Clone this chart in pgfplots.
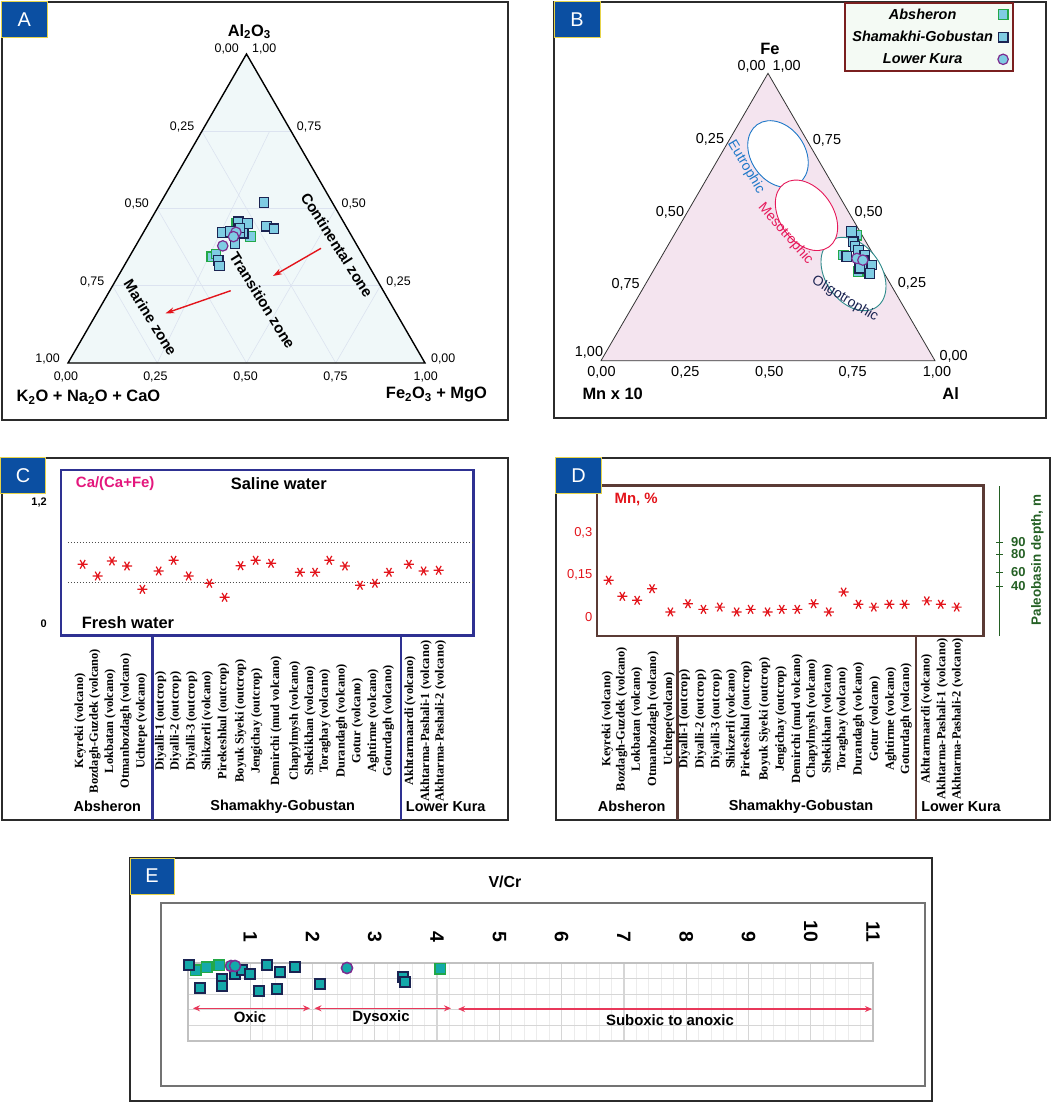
\documentclass[border=0pt]{standalone}
\usepackage{fontspec}
\setmainfont{Liberation Sans}
\newfontfamily\serifb{Liberation Serif}
\usepackage{pgfplots}
\pgfplotsset{compat=1.18}
\usepackage{pgfplotstable}
\usetikzlibrary{arrows.meta}

\definecolor{pblue}{HTML}{0B4FA2}
\definecolor{pyel}{HTML}{E6D34A}
\definecolor{trifillA}{HTML}{F0F8F9}
\definecolor{gridA}{HTML}{DCE3F0}
\definecolor{trifillB}{HTML}{F4E4EF}
\definecolor{mfill}{HTML}{7FCCE3}
\definecolor{efill}{HTML}{14A9AA}
\definecolor{navy}{HTML}{1B2452}
\definecolor{mgreen}{HTML}{23A848}
\definecolor{mpurple}{HTML}{7D2C8F}
\definecolor{cbox}{HTML}{2E3192}
\definecolor{magenta}{HTML}{E4177D}
\definecolor{dbox}{HTML}{5B3B35}
\definecolor{mred}{HTML}{E3141B}
\definecolor{dkgreen}{HTML}{246024}
\definecolor{earrow}{HTML}{E8385A}
\definecolor{gmaj}{HTML}{D6D6D6}
\definecolor{gmin}{HTML}{ECECEC}
\definecolor{eut}{HTML}{1E78C8}
\definecolor{meso}{HTML}{E6195A}
\definecolor{oligo}{HTML}{2E8B8B}
\definecolor{legfill}{HTML}{F4FAF4}
\definecolor{legborder}{HTML}{7A1F1F}
\definecolor{frame}{HTML}{2B2B2B}

\newcommand\fs[1]{\fontsize{#1}{#1}\selectfont}

% panel A: Al2O3 (a), Fe2O3+MgO (f)
\pgfplotstableread{
a f
0.452 0.247
0.409 0.307
0.344 0.231
0.353 0.238
}\Aabs
\pgfplotstableread{
a f
0.520 0.289
0.443 0.335
0.434 0.360
0.457 0.249
0.452 0.277
0.422 0.222
0.425 0.241
0.420 0.281
0.387 0.274
0.420 0.270
0.437 0.263
0.333 0.254
0.314 0.267
}\Asha
\pgfplotstableread{
a f
0.423 0.259
0.409 0.259
0.379 0.244
}\Akur

% panel B: Fe (fe), Al (al)
\pgfplotstableread{
fe al
0.437 0.547
0.368 0.541
0.310 0.615
}\Babs
\pgfplotstableread{
fe al
0.449 0.526
0.414 0.548
0.397 0.562
0.362 0.555
0.385 0.578
0.368 0.606
0.350 0.610
0.327 0.632
0.333 0.644
0.304 0.653
0.322 0.614
}\Bsha
\pgfplotstableread{
fe al
0.356 0.588
0.350 0.609
}\Bkur

% panel C: Ca/(Ca+Fe)
\pgfplotstableread{
pos r
1 0.585
1.93 0.469
2.81 0.618
3.74 0.568
4.69 0.337
5.70 0.519
6.62 0.625
7.55 0.469
8.83 0.397
9.77 0.258
10.76 0.571
11.69 0.625
12.64 0.595
14.43 0.506
15.36 0.506
16.24 0.625
17.21 0.568
18.14 0.377
19.06 0.397
19.93 0.506
21.16 0.585
22.07 0.519
23.00 0.526
}\Cdata

% panel D: Mn, %
\pgfplotstableread{
pos mn
1 0.131
1.86 0.074
2.80 0.060
3.74 0.101
4.90 0.019
6.01 0.048
6.99 0.028
8.02 0.036
9.09 0.019
9.97 0.028
11.04 0.019
11.94 0.028
12.92 0.028
13.95 0.048
14.91 0.019
15.85 0.089
16.79 0.046
17.76 0.036
18.74 0.046
19.70 0.046
21.11 0.058
21.99 0.046
23.00 0.036
}\Ddata

% panel E: V/Cr, row
\pgfplotstableread{
v row
0.128 4.55
0.305 4.74
0.498 4.87
4.047 4.62
}\Eabs
\pgfplotstableread{
v row
0.016 4.87
0.193 3.40
0.546 3.97
0.546 3.53
0.755 4.29
0.867 4.55
0.996 4.29
1.140 3.21
1.269 4.87
1.429 3.33
1.477 4.42
1.718 4.74
2.120 3.65
3.453 4.10
3.485 3.78
}\Esha
\pgfplotstableread{
v row
0.691 4.81
0.755 4.81
2.553 4.68
}\Ekur

\pgfplotsset{
  absA/.style={only marks, mark=square*, mark size=4.8bp, mark options={fill=mfill, draw=mgreen, line width=1.2bp}},
  shaA/.style={only marks, mark=square*, mark size=4.8bp, mark options={fill=mfill, draw=navy, line width=1.2bp}},
  kurA/.style={only marks, mark=*, mark size=5.2bp, mark options={fill=mfill, draw=mpurple, line width=1.2bp}},
  absE/.style={only marks, mark=square*, mark size=5.4bp, mark options={fill=efill, draw=mgreen, line width=1.8bp}},
  shaE/.style={only marks, mark=square*, mark size=5.4bp, mark options={fill=efill, draw=navy, line width=2bp}},
  kurE/.style={only marks, mark=*, mark size=5.6bp, mark options={fill=efill, draw=mpurple, line width=1.5bp}},
  starC/.style={only marks, mark=asterisk, mark size=5bp, mark options={rotate=90, draw=mred, line width=1.2bp}},
}

\begin{document}
\begin{tikzpicture}
\fill[white] (0,0) rectangle (1051bp,-1103bp);
\begin{scope}[x=1bp,y=-1bp]
  % ---------- panel A background ----------
  \filldraw[fill=trifillA, draw=none] (68,363) -- (425,363) -- (246.5,54) -- cycle;
  \begin{scope}[draw=gridA, line width=0.6bp]
    \draw (112.6,285.75) -- (380.4,285.75);
    \draw (157.25,208.5) -- (335.75,208.5);
    \draw (201.9,131.25) -- (291.1,131.25);
    \draw (157.25,363) -- (269.6,131.25);
    \draw (246.5,363) -- (335.75,208.5);
    \draw (335.75,363) -- (380.4,285.75);
    \draw (335.75,363) -- (201.9,131.25);
    \draw (246.5,363) -- (157.25,208.5);
    \draw (157.25,363) -- (112.6,285.75);
  \end{scope}
  \draw[black, line width=1.4bp, line join=miter] (68,363) -- (425,363) -- (246.5,54) -- cycle;
  \begin{scope}[font=\fs{12.5}]
    \node at (226.7,49.3) {0,00};  \node at (264.2,49.3) {1,00};
    \node at (182.1,126.7) {0,25}; \node at (136.8,204) {0,50};
    \node at (92.2,282) {0,75};    \node at (47.6,359.3) {1,00};
    \node at (309.1,126.7) {0,75}; \node at (353.7,204) {0,50};
    \node at (398.6,282) {0,25};   \node at (443.2,359.3) {0,00};
    \node at (65.9,377.3) {0,00};  \node at (155.4,377.3) {0,25};
    \node at (245.6,377.3) {0,50}; \node at (335.5,377.3) {0,75};
    \node at (425.7,377.3) {1,00};
  \end{scope}
  \begin{scope}[font=\bfseries\fs{16.5}]
    \node at (249.3,31.7) {Al\textsubscript{2}O\textsubscript{3}};
    \node at (88.5,397.3) {K\textsubscript{2}O + Na\textsubscript{2}O + CaO};
    \node at (436.5,395) {Fe\textsubscript{2}O\textsubscript{3} + MgO};
  \end{scope}
  \begin{scope}[font=\bfseries\fs{15}]
    \node[rotate=-57.6] at (337,245) {Continental zone};
    \node[rotate=-58] at (262.5,300.5) {Transition zone};
    \node[rotate=-58] at (150.5,317.5) {Marine zone};
  \end{scope}
  \draw[mred, line width=1.4bp, -{Stealth[length=9bp,width=6bp]}] (321,248.3) -- (273,276);
  \draw[mred, line width=1.4bp, -{Stealth[length=9bp,width=6bp]}] (230.7,290.7) -- (165.5,313.3);

  % ---------- panel B background ----------
  \filldraw[fill=trifillB, draw=black!80, line width=0.8bp] (601,360.7) -- (935,360.7) -- (768,73.3) -- cycle;
  \draw[eut, line width=0.9bp, fill=white, rotate around={-55:(778,154)}] (778,154) ellipse [x radius=36bp, y radius=27bp];
  \draw[oligo, line width=0.9bp, fill=white, rotate around={-55:(853.5,274)}] (853.5,274) ellipse [x radius=40.3bp, y radius=27.9bp];
  \draw[meso, line width=0.9bp, fill=white, rotate around={-55:(806.5,215.3)}] (806.5,215.3) ellipse [x radius=38.8bp, y radius=26.6bp];
  \begin{scope}[font=\fs{14}]
    \node[eut, rotate=-59, inner sep=0pt] at (746,167) {Eutrophic};
    \node[meso, rotate=-49, inner sep=0pt] at (785.5,234) {Mesotrophic};
    \node[navy, rotate=-31, inner sep=0pt] at (845,299) {Oligotrophic};
  \end{scope}
  \begin{scope}[font=\fs{14.5}]
    \node at (751.7,66.7) {0,00};  \node at (786.7,66.7) {1,00};
    \node at (710,139.3) {0,25};   \node at (670,212.3) {0,50};
    \node at (625.7,284.3) {0,75}; \node at (589,352.7) {1,00};
    \node at (827,140) {0,75};     \node at (868.7,212.3) {0,50};
    \node at (912,283.3) {0,25};   \node at (953.7,356.7) {0,00};
    \node at (601.5,372.7) {0,00}; \node at (685.3,372.7) {0,25};
    \node at (769.3,372.7) {0,50}; \node at (852.7,372.7) {0,75};
    \node at (937,372.7) {1,00};
  \end{scope}
  \begin{scope}[font=\bfseries\fs{16.5}]
    \node at (770,49.3) {Fe};
    \node at (612.7,394) {Mn x 10};
    \node at (950.7,394) {Al};
  \end{scope}

  % ---------- frames ----------
  \draw[frame, line width=2bp] (1.7,1.7) rectangle (508.3,419.5);
  \draw[frame, line width=2bp] (554,1.7) rectangle (1045.5,418.3);
  \draw[frame, line width=2bp] (1.7,457.7) rectangle (508.3,820);
  \draw[frame, line width=2bp] (556,457.7) rectangle (1049.5,820);
  \draw[frame, line width=2bp] (130,858) rectangle (932,1101);
  \draw[black!55, line width=1.5bp] (161,903) rectangle (925,1086);

  % ---------- panel C / D texts ----------
  \node[magenta, font=\bfseries\fs{15}] at (115.2,483.3) {Ca/(Ca+Fe)};
  \node[font=\bfseries\fs{16.5}] at (278.8,483.3) {Saline water};
  \node[font=\bfseries\fs{16.5}] at (128,622.7) {Fresh water};
  \draw[cbox, line width=2.5bp] (152.3,636) -- (152.3,820);
  \draw[cbox, line width=2.5bp] (401,636) -- (401,820);
  \begin{scope}[font=\bfseries\fs{14.5}]
    \node at (107.3,806.7) {Absheron};
    \node at (282.7,806.7) {Shamakhy-Gobustan};
    \node at (445.7,806.7) {Lower Kura};
    \node at (631.7,806.7) {Absheron};
    \node at (801,806.7) {Shamakhy-Gobustan};
    \node at (961,806.7) {Lower Kura};
  \end{scope}
  \node[mred, font=\bfseries\fs{15}] at (636.2,499.3) {Mn, \%};
  \draw[dbox, line width=2.5bp] (677.5,636) -- (677.5,820);
  \draw[dbox, line width=2.5bp] (916.2,636) -- (916.2,820);
  \node[dkgreen, font=\bfseries\fs{13.5}, rotate=90] at (1037.4,560) {Paleobasin depth, m};

  % ---------- panel E texts ----------
  \node[font=\bfseries\fs{16}] at (505,882) {V/Cr};
\end{scope}

% ================= panel A =================
\begin{axis}[at={(68bp,-363bp)}, anchor=south west, scale only axis,
  width=357bp, height=309bp, xmin=0, xmax=1, ymin=0, ymax=0.8660,
  hide axis, clip=false]
  \addplot[absA] table[x expr=\thisrow{f}+0.5*\thisrow{a}, y expr=0.8660*\thisrow{a}] {\Aabs};
  \addplot[shaA] table[x expr=\thisrow{f}+0.5*\thisrow{a}, y expr=0.8660*\thisrow{a}] {\Asha};
  \addplot[kurA] table[x expr=\thisrow{f}+0.5*\thisrow{a}, y expr=0.8660*\thisrow{a}] {\Akur};
\end{axis}

% ================= panel B =================
\begin{axis}[at={(601bp,-360.7bp)}, anchor=south west, scale only axis,
  width=334bp, height=287.4bp, xmin=0, xmax=1, ymin=0, ymax=0.8660,
  hide axis, clip=false,
  legend plot pos=right, legend cell align=center,
  legend style={at={(1.2374,1.2491)}, anchor=north east, draw=legborder,
    line width=2bp, fill=legfill, font=\bfseries\itshape\fs{14.5},
    row sep=6.5bp, inner xsep=5bp, inner ysep=4bp,
    /tikz/every odd column/.append style={column sep=3bp}}]
  \addplot[absA] table[x expr=\thisrow{al}+0.5*\thisrow{fe}, y expr=0.8660*\thisrow{fe}] {\Babs};
  \addplot[shaA] table[x expr=\thisrow{al}+0.5*\thisrow{fe}, y expr=0.8660*\thisrow{fe}] {\Bsha};
  \addplot[kurA] table[x expr=\thisrow{al}+0.5*\thisrow{fe}, y expr=0.8660*\thisrow{fe}] {\Bkur};
  \legend{Absheron, Shamakhi-Gobustan, Lower Kura}
\end{axis}

% ================= panel C =================
\begin{axis}[at={(61bp,-635.7bp)}, anchor=south west, scale only axis,
  width=412.3bp, height=165.7bp, xmin=-0.339, xmax=25.14, ymin=-0.123, ymax=1.520,
  axis line style={draw=cbox, line width=2.5bp}, clip=false,
  major tick length=0pt,
  ytick={0,1.2}, yticklabels={0,{1,2}},
  yticklabel style={font=\bfseries\fs{11}}, yticklabel shift=10.8bp,
  xtick={0.84,1.76,2.69,3.68,4.65,5.82,6.75,7.74,8.70,9.69,10.76,11.75,12.95,14.12,15.05,15.97,17.00,17.97,18.96,19.89,21.23,22.22,23.12},
  xticklabels={Keyreki (volcano), Bozdagh-Guzdek (volcano), Lokbatan (volcano), Otmanbozdagh (volcano), Uchtepe (volcano), Diyalli-1 (outcrop), Diyalli-2 (outcrop), Diyalli-3 (outcrop), Shikzerli (volcano), Pirekeshkul (outcrop), Boyuk Siyeki (outcrop), Jengichay (outcrop), Demirchi (mud volcano), Chapylmysh (volcano), Shekikhan (volcano), Toraghay (volcano), Durandagh (volcano), Gotur (volcano), Aghtirme (volcano), Goturdagh (volcano), Akhtarmaardi (volcano), Akhtarma-Pashali-1 (volcano), Akhtarma-Pashali-2 (volcano)},
  xticklabel style={rotate=90, anchor=center, font=\serifb\bfseries\fs{12.5}},
  xticklabel shift=85.3bp]
  \addplot[black!70, dotted, line width=1bp, forget plot] coordinates {(0.093,0.8) (25.1,0.8)};
  \addplot[black!70, dotted, line width=1bp, forget plot] coordinates {(0.093,0.4) (25.1,0.4)};
  \addplot[starC] table[x=pos, y=r] {\Cdata};
\end{axis}

% ================= panel D =================
\begin{axis}[at={(597.2bp,-636bp)}, anchor=south west, scale only axis,
  width=386.1bp, height=150.3bp, xmin=0.273, xmax=24.68, ymin=-0.066, ymax=0.4645,
  axis line style={draw=dbox, line width=2.5bp}, clip=false,
  major tick length=0pt,
  ytick={0,0.15,0.3}, yticklabels={0,{0,15},{0,3}},
  yticklabel style={font=\fs{13}, text=mred}, yticklabel shift=1.4bp,
  xtick={0.92,1.82,2.78,3.81,4.82,5.78,6.81,7.81,8.77,9.70,10.85,11.88,12.91,13.85,14.84,15.78,16.80,17.83,18.84,19.80,21.09,22.09,23.05},
  xticklabels={Keyreki (volcano), Bozdagh-Guzdek (volcano), Lokbatan (volcano), Otmanbozdagh (volcano), Uchtepe(volcano), Diyalli-1 (outcrop), Diyalli-2 (outcrop), Diyalli-3 (outcrop), Shikzerli (volcano), Pirekeshkul (outcrop), Boyuk Siyeki (outcrop), Jengichay (outcrop), Demirchi (mud volcano), Chapylmysh (volcano), Shekikhan (volcano), Toraghay (volcano), Durandagh (volcano), Gotur (volcano), Aghtirme (volcano), Goturdagh (volcano), Akhtarmaardi (volcano), Akhtarma-Pashali-1 (volcano), Akhtarma-Pashali-2 (volcano)},
  xticklabel style={rotate=90, anchor=center, font=\serifb\bfseries\fs{12.5}},
  xticklabel shift=83bp]
  \addplot[starC] table[x=pos, y=mn] {\Ddata};
\end{axis}

% depth scale of panel D
\begin{axis}[at={(597.2bp,-636bp)}, anchor=south west, scale only axis,
  width=402bp, height=150.3bp, xmin=0, xmax=1, ymin=-0.066, ymax=0.4645,
  axis x line=none, axis y line*=right,
  axis line style={draw=dkgreen, line width=1bp},
  ytick={0.1105,0.1588,0.2234,0.2647}, yticklabels={40,60,80,90},
  major tick length=7bp, tick align=center,
  tick style={draw=dkgreen, line width=1bp},
  yticklabel style={font=\bfseries\fs{13}, text=dkgreen}, yticklabel shift=5bp]
  \addplot[draw=none, forget plot] coordinates {(0,0)};
\end{axis}

% ================= panel E =================
\begin{axis}[at={(188bp,-1041bp)}, anchor=south west, scale only axis,
  width=685bp, height=78bp, xmin=0, xmax=11, ymin=0, ymax=5,
  xtick={1,...,11}, xticklabels={1,2,3,4,5,6,7,8,9,10,11},
  xticklabel pos=upper, minor x tick num=4,
  ytick={0,...,5}, yticklabels={},
  grid=both, major grid style={draw=gmaj, line width=1.2bp},
  minor grid style={draw=gmin, line width=0.8bp},
  axis line style={draw=gmaj!90!black, line width=1.5bp},
  major tick length=0pt, minor tick length=0pt, clip=false,
  xticklabel style={rotate=-90, anchor=east, inner sep=0pt, font=\bfseries\fs{19.5}},
  xticklabel shift=20.7bp]
  \addplot[absE] table[x=v, y=row] {\Eabs};
  \addplot[shaE] table[x=v, y=row] {\Esha};
  \addplot[kurE] table[x=v, y=row] {\Ekur};
\end{axis}

\begin{scope}[x=1bp,y=-1bp]
  \begin{scope}[earrow, line width=1.4bp]
    \draw[{Stealth[length=7bp,width=6bp]}-{Stealth[length=7bp,width=6bp]}] (193,1008.3) -- (310,1008.3);
    \draw[{Stealth[length=7bp,width=6bp]}-{Stealth[length=7bp,width=6bp]}] (314.5,1008.3) -- (451,1008.3);
    \draw[{Stealth[length=7bp,width=6bp]}-{Stealth[length=7bp,width=6bp]}] (458,1009) -- (872,1009);
  \end{scope}
  \begin{scope}[font=\bfseries\fs{15}]
    \node at (250,1016.7) {Oxic};
    \node at (381,1017.3) {Dysoxic};
    \node at (670,1020.3) {Suboxic to anoxic};
  \end{scope}
  % panel letters
  \foreach \xa/\ya/\xb/\yb/\t in {1.7/1.7/47/37.5/A, 554/1.7/600/37.5/B, 0.5/457.7/45.7/493.3/C, 555.6/457.7/601.3/493.3/D, 130/858/174/894/E}{
    \filldraw[fill=pblue, draw=pyel, line width=0.8bp] (\xa,\ya) rectangle (\xb,\yb);
    \node[white, font=\fs{20}] at ({(\xa+\xb)/2},{(\ya+\yb)/2}) {\t};
  }
\end{scope}
\end{tikzpicture}
\end{document}
